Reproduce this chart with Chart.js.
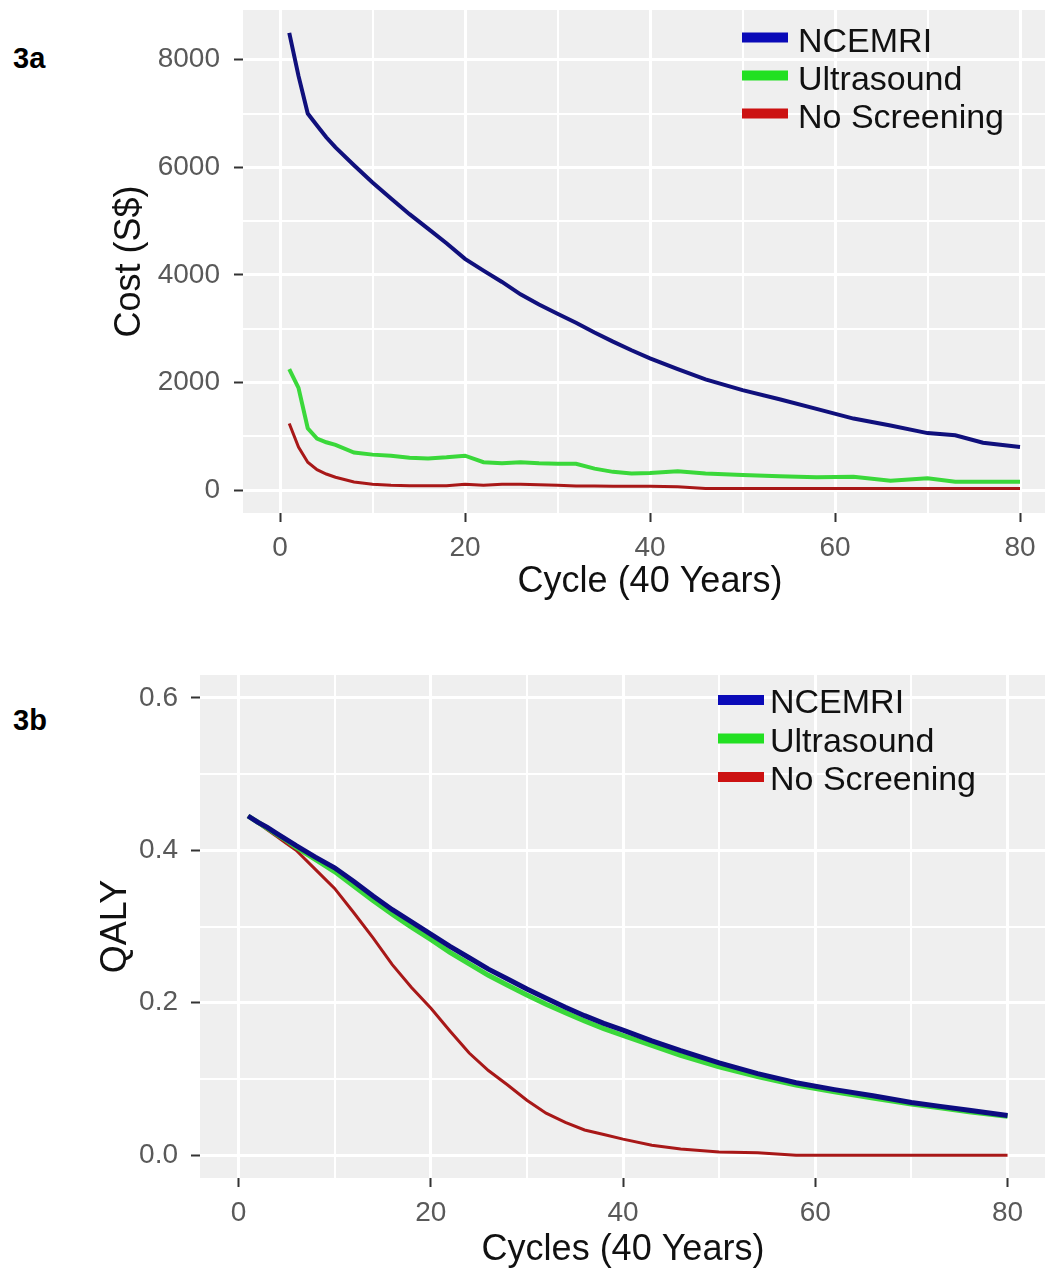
<!DOCTYPE html>
<html>
<head>
<meta charset="utf-8">
<script src="https://cdn.jsdelivr.net/npm/chart.js@4.4.1/dist/chart.umd.min.js"></script>
<style>
  html, body { margin: 0; padding: 0; background: #fff; overflow: hidden; width: 1045px; height: 1273px; }
  .tag { position: absolute; left: 13px; font: bold 29px/29px "Liberation Sans", Arial, sans-serif; color: #000; }
  canvas { position: absolute; left: 0; }
</style>
</head>
<body>
<div class="tag" style="top:44px">3a</div>
<div class="tag" style="top:706px">3b</div>
<canvas id="costChart" width="1057" height="612" style="top:0"></canvas>
<canvas id="qalyChart" width="1046" height="633" style="top:640px"></canvas>
<script>
// cycles sampled from the figure (shared by both panels)
const cycles = [1, 2, 3, 4, 5, 6, 8, 10, 12, 14, 16, 18, 20, 22, 24, 26, 28, 30, 32, 34, 36, 38, 40, 43, 46, 50, 54, 58, 62, 66, 70, 73, 76, 80];

// 3a - cost (S$)
const costNcemri = [8500, 7700, 7000, 6780, 6560, 6370, 6040, 5720, 5420, 5130, 4860, 4590, 4300, 4080, 3870, 3640, 3450, 3280, 3110, 2930, 2760, 2600, 2450, 2250, 2060, 1860, 1690, 1510, 1330, 1200, 1060, 1020, 880, 800];
const costUltrasound = [2250, 1900, 1150, 960, 890, 840, 700, 660, 640, 600, 590, 610, 640, 520, 500, 520, 500, 490, 490, 400, 340, 310, 320, 350, 310, 280, 260, 240, 250, 175, 220, 155, 155, 155];
const costNoScreening = [1240, 800, 520, 380, 300, 240, 150, 110, 90, 80, 80, 80, 110, 90, 110, 110, 100, 90, 75, 75, 70, 70, 70, 65, 30, 30, 30, 30, 30, 30, 30, 30, 30, 30];

// 3b - QALY
const qalyNcemri = [0.445, 0.437, 0.430, 0.422, 0.414, 0.406, 0.391, 0.377, 0.359, 0.340, 0.322, 0.306, 0.290, 0.274, 0.259, 0.244, 0.231, 0.218, 0.206, 0.194, 0.183, 0.173, 0.164, 0.150, 0.137, 0.121, 0.107, 0.095, 0.086, 0.078, 0.069, 0.064, 0.059, 0.052];
const qalyUltrasound = [0.445, 0.437, 0.429, 0.421, 0.413, 0.404, 0.388, 0.372, 0.353, 0.334, 0.316, 0.299, 0.283, 0.266, 0.251, 0.236, 0.223, 0.210, 0.198, 0.187, 0.176, 0.166, 0.157, 0.144, 0.131, 0.116, 0.103, 0.092, 0.083, 0.075, 0.067, 0.062, 0.057, 0.051];
const qalyNoScreening = [0.445, 0.436, 0.427, 0.418, 0.409, 0.400, 0.375, 0.350, 0.318, 0.285, 0.250, 0.220, 0.193, 0.163, 0.134, 0.111, 0.092, 0.072, 0.055, 0.043, 0.033, 0.027, 0.021, 0.013, 0.008, 0.004, 0.003, 0, 0, 0, 0, 0, 0, 0];

// tick labels (major) and minor grid positions
const cycleTicks = [0, 20, 40, 60, 80];
const cycleMinor = [10, 30, 50, 70];
const costTicks = [0, 2000, 4000, 6000, 8000];
const costMinor = [1000, 3000, 5000, 7000];
const qalyTicks = [0, 0.2, 0.4, 0.6];
const qalyMinor = [0.1, 0.3, 0.5];

const FONT = '"Liberation Sans", Arial, sans-serif';

function points(values) {
  return values.map((v, i) => ({ x: cycles[i], y: v }));
}

function tickList(major, minor) {
  return major.concat(minor).sort((a, b) => a - b).map(v => ({ value: v }));
}

// grey ggplot-style panel
const panelBg = {
  id: 'panelBg',
  beforeDraw(chart) {
    const { ctx, chartArea: a } = chart;
    ctx.save();
    ctx.fillStyle = '#efefef';
    ctx.fillRect(a.left, a.top, a.right - a.left, a.bottom - a.top);
    ctx.restore();
  }
};

// legend drawn inside the panel, top right
const keyLegend = {
  id: 'keyLegend',
  afterDraw(chart, args, opts) {
    const ctx = chart.ctx;
    ctx.save();
    ctx.font = '34px ' + FONT;
    ctx.textBaseline = 'alphabetic';
    ctx.textAlign = 'left';
    chart.data.datasets.forEach((ds, i) => {
      const cy = opts.top + i * opts.step;
      ctx.fillStyle = ds.keyColor;
      ctx.fillRect(opts.left, cy - 5, 46, 10);
      ctx.fillStyle = '#111';
      ctx.fillText(ds.label, opts.left + opts.textGap, cy + opts.textDrop);
    });
    ctx.restore();
  }
};

function gridFor(major) {
  return {
    color: '#ffffff',
    lineWidth: c => (c.tick && major.includes(c.tick.value)) ? 3 : 2,
    tickColor: c => (c.tick && major.includes(c.tick.value)) ? '#333333' : 'rgba(0,0,0,0)',
    tickWidth: 2,
    tickLength: 9
  };
}

function xAxis(title, height, titlePad) {
  return {
    type: 'linear',
    min: -4,
    max: 84,
    bounds: 'data',
    afterBuildTicks: s => { s.ticks = tickList(cycleTicks, cycleMinor); },
    ticks: {
      autoSkip: false,
      maxRotation: 0,
      padding: 9,
      color: '#595959',
      font: { family: FONT, size: 28 },
      callback: v => cycleTicks.includes(v) ? String(v) : ''
    },
    grid: gridFor(cycleTicks),
    border: { display: false },
    title: { display: true, text: title, color: '#111', font: { family: FONT, size: 36 }, padding: { top: 0, bottom: titlePad } },
    afterFit: s => { s.height = height; s.paddingLeft = 0; s.paddingRight = 0; }
  };
}

function yAxis(title, min, max, major, minor, fmt, width, titlePad, labelPad) {
  return {
    type: 'linear',
    min: min,
    max: max,
    bounds: 'data',
    afterBuildTicks: s => { s.ticks = tickList(major, minor); },
    ticks: {
      autoSkip: false,
      padding: labelPad,
      color: '#595959',
      font: { family: FONT, size: 28 },
      callback: v => major.includes(v) ? fmt(v) : ''
    },
    grid: gridFor(major),
    border: { display: false },
    title: { display: true, text: title, color: '#111', font: { family: FONT, size: 36 }, padding: { top: titlePad, bottom: 0 } },
    afterFit: s => { s.width = width; s.paddingTop = 0; s.paddingBottom = 0; }
  };
}

function makeChart(id, sets, legendOpts, padTop, scales) {
  return new Chart(document.getElementById(id), {
    type: 'line',
    data: { datasets: sets },
    options: {
      responsive: false,
      animation: false,
      layout: { padding: { top: padTop, left: 0, right: 0, bottom: 0 } },
      elements: { point: { radius: 0 }, line: { tension: 0 } },
      plugins: {
        legend: { display: false },
        tooltip: { enabled: false },
        keyLegend: legendOpts
      },
      scales: scales
    },
    plugins: [panelBg, keyLegend]
  });
}

// Chart 3a
makeChart('costChart', [
  { label: 'NCEMRI', data: points(costNcemri), borderColor: '#10107c', keyColor: '#0a0ab8', borderWidth: 4 },
  { label: 'Ultrasound', data: points(costUltrasound), borderColor: '#3ad83a', keyColor: '#22e022', borderWidth: 4 },
  { label: 'No Screening', data: points(costNoScreening), borderColor: '#a81818', keyColor: '#cc1111', borderWidth: 3 }
], { left: 742, top: 37.5, step: 38, textGap: 56, textDrop: 14.5 }, 10, {
  x: xAxis('Cycle (40 Years)', 99, 8),
  y: yAxis('Cost (S$)', -425, 8925, costTicks, costMinor, v => String(v), 243, 108, 14)
});

// Chart 3b
makeChart('qalyChart', [
  { label: 'NCEMRI', data: points(qalyNcemri), borderColor: '#0c0c80', keyColor: '#0a0ab8', borderWidth: 5 },
  { label: 'Ultrasound', data: points(qalyUltrasound), borderColor: '#3ad83a', keyColor: '#22e022', borderWidth: 5 },
  { label: 'No Screening', data: points(qalyNoScreening), borderColor: '#a81818', keyColor: '#cc1111', borderWidth: 3 }
], { left: 718, top: 60, step: 38.5, textGap: 52, textDrop: 13 }, 35, {
  x: xAxis('Cycles (40 Years)', 95, 1),
  y: yAxis('QALY', -0.03, 0.63, qalyTicks, qalyMinor, v => v.toFixed(1), 200, 94, 13)
});
</script>
</body>
</html>
